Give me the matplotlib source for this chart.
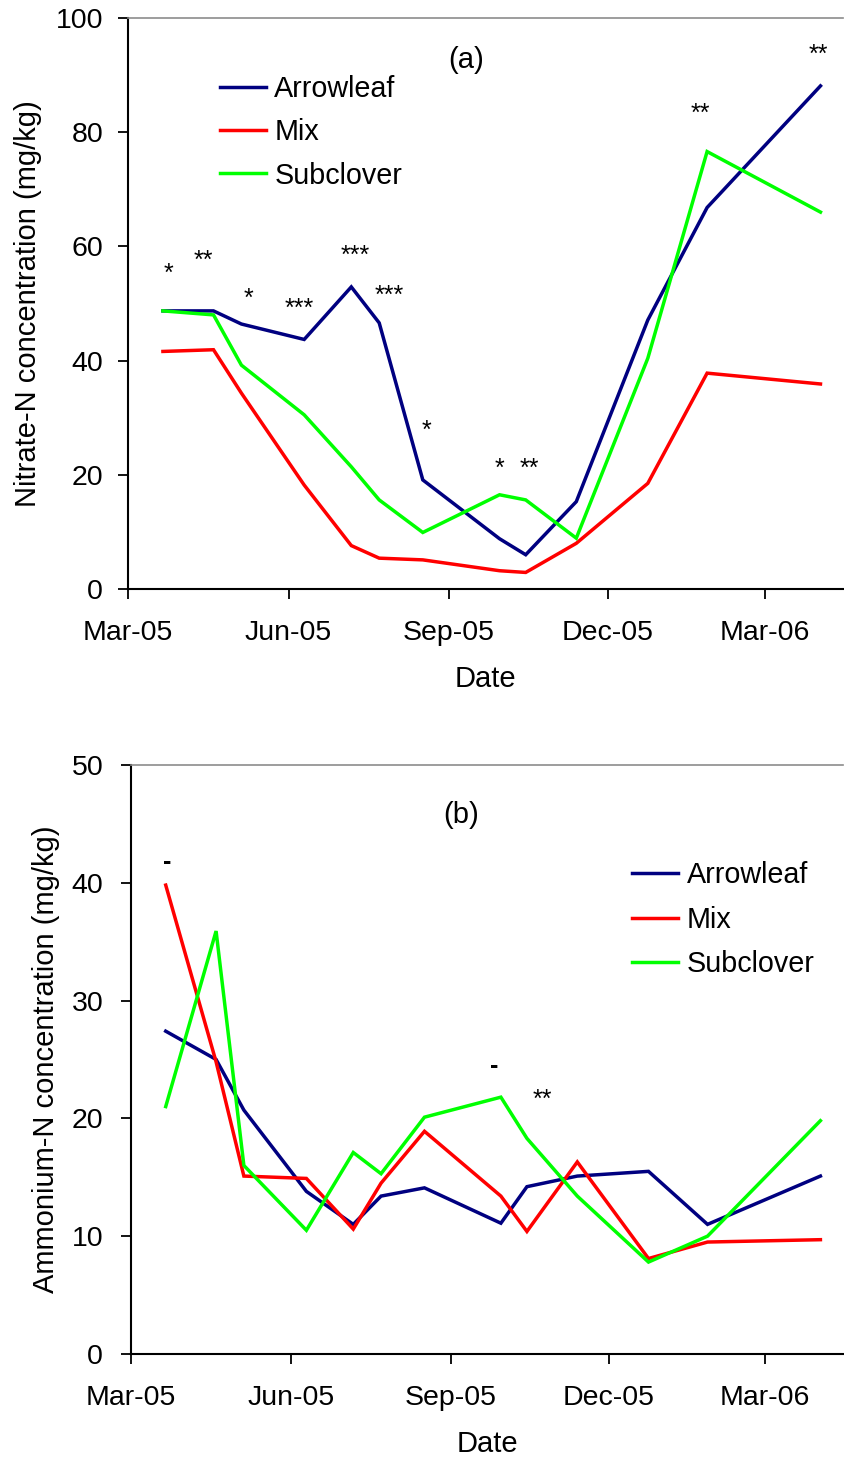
import matplotlib
matplotlib.use('Agg')
import matplotlib.pyplot as plt
import pandas as pd

plt.rcParams['font.family'] = ['Liberation Sans', 'DejaVu Sans']

# ---------------- data ----------------
sample_dates = pd.to_datetime([
    '2005-03-21', '2005-04-19', '2005-05-05', '2005-06-10', '2005-07-07',
    '2005-07-23', '2005-08-17', '2005-09-30', '2005-10-15', '2005-11-13',
    '2005-12-24', '2006-01-27', '2006-04-02'])

series_names = ['Arrowleaf', 'Mix', 'Subclover']
series_colors = ['#000080', '#FF0000', '#00FF00']

nitrate_arrowleaf = [48.7, 48.7, 46.4, 43.7, 52.9, 46.6, 19.1, 8.8, 6.0, 15.3, 47.1, 66.8, 88.1]
nitrate_mix = [41.6, 41.9, 34.3, 18.2, 7.6, 5.4, 5.1, 3.2, 2.9, 8.0, 18.5, 37.8, 35.9]
nitrate_subclover = [48.7, 48.0, 39.2, 30.5, 21.4, 15.6, 9.9, 16.5, 15.6, 8.9, 40.4, 76.6, 66.0]

ammonium_arrowleaf = [27.4, 25.0, 20.7, 13.8, 11.0, 13.4, 14.1, 11.1, 14.2, 15.1, 15.5, 11.0, 15.1]
ammonium_mix = [39.8, 24.8, 15.1, 14.9, 10.6, 14.5, 18.9, 13.4, 10.4, 16.3, 8.1, 9.5, 9.7]
ammonium_subclover = [21.0, 35.9, 16.0, 10.5, 17.1, 15.3, 20.1, 21.8, 18.3, 13.4, 7.8, 10.0, 19.8]

# significance marks (text, date, value at glyph centre)
sig_a_text = ['*', '**', '*', '***', '***', '***', '*', '*', '**', '**', '**']
sig_a_dates = pd.to_datetime([
    '2005-03-24', '2005-04-13', '2005-05-09', '2005-06-07', '2005-07-09',
    '2005-07-29', '2005-08-19', '2005-09-30', '2005-10-17', '2006-01-23',
    '2006-04-01'])
sig_a_values = [55.9, 58.1, 51.5, 49.7, 59.0, 52.0, 28.5, 21.7, 21.7, 84.0, 94.2]

sig_b_text = ['-', '-', '**']
sig_b_dates = pd.to_datetime(['2005-03-22', '2005-09-26', '2005-10-24'])
sig_b_values = [41.6, 24.3, 21.9]

tick_dates = pd.to_datetime(['2005-03-01', '2005-06-01', '2005-09-01',
                             '2005-12-01', '2006-03-01'])
tick_labels = ['Mar-05', 'Jun-05', 'Sep-05', 'Dec-05', 'Mar-06']
x_start = pd.Timestamp('2005-03-01')
x_end = pd.Timestamp('2006-04-15')

FS_TICK = 20.5
FS_LAB = 21
FS_LEG = 20.7

fig = plt.figure(figsize=(8.44, 14.59), dpi=100)
ax_a = fig.add_axes([0.1517, 0.5963, 0.8473, 0.3914])
ax_b = fig.add_axes([0.1552, 0.0720, 0.8436, 0.4037])


def style_axes(ax, ymax, ystep, ylabel, ylab_x, ypad):
    ax.set_xlim(x_start, x_end)
    ax.set_ylim(0, ymax)
    ax.set_yticks(list(range(0, ymax + 1, ystep)))
    ax.set_xticks(tick_dates)
    ax.set_xticklabels(tick_labels)
    ax.spines['right'].set_visible(False)
    ax.spines['top'].set_color('#8c8c8c')
    ax.spines['top'].set_linewidth(1.2)
    for s in ('left', 'bottom'):
        ax.spines[s].set_linewidth(1.5)
        ax.spines[s].set_color('black')
    ax.tick_params(axis='both', direction='out', length=7, width=1.3,
                   labelsize=FS_TICK)
    ax.tick_params(axis='x', pad=15)
    ax.tick_params(axis='y', pad=ypad)
    ax.set_xlabel('Date', fontsize=FS_LAB, labelpad=14)
    ax.set_ylabel(ylabel, fontsize=FS_LAB)
    ax.yaxis.set_label_coords(ylab_x, 0.5)


# ---------------- panel (a) ----------------
for vals, name, col in zip([nitrate_arrowleaf, nitrate_mix, nitrate_subclover],
                           series_names, series_colors):
    ax_a.plot(sample_dates, vals, color=col, lw=2.5, label=name,
              solid_joinstyle='miter')
style_axes(ax_a, 100, 20, 'Nitrate-N concentration (mg/kg)', -0.12, 11)
for t, d, v in zip(sig_a_text, sig_a_dates, sig_a_values):
    ax_a.annotate(t, xy=(d, v), xytext=(0, -8), textcoords='offset points',
                  ha='center', va='baseline', fontsize=18)
ax_a.text(0.473, 0.927, '(a)', transform=ax_a.transAxes, ha='center',
          va='center', fontsize=FS_LAB)
ax_a.legend(loc='upper left', bbox_to_anchor=(0.128, 0.9), frameon=False,
            fontsize=FS_LEG, handlelength=1.6, handletextpad=0.3,
            labelspacing=0.53, borderpad=0, borderaxespad=0)

# ---------------- panel (b) ----------------
for vals, name, col in zip([ammonium_arrowleaf, ammonium_mix, ammonium_subclover],
                           series_names, series_colors):
    ax_b.plot(sample_dates, vals, color=col, lw=2.5, label=name,
              solid_joinstyle='miter')
style_axes(ax_b, 50, 10, 'Ammonium-N concentration (mg/kg)', -0.1, 13)
for t, d, v in zip(sig_b_text, sig_b_dates, sig_b_values):
    if t == '-':
        ax_b.annotate(t, xy=(d, v), xytext=(0, -4), textcoords='offset points',
                      ha='center', va='baseline', fontsize=18, fontweight='bold')
    else:
        ax_b.annotate(t, xy=(d, v), xytext=(0, -8), textcoords='offset points',
                      ha='center', va='baseline', fontsize=18)
ax_b.text(0.464, 0.915, '(b)', transform=ax_b.transAxes, ha='center',
          va='center', fontsize=FS_LAB)
ax_b.legend(loc='upper left', bbox_to_anchor=(0.704, 0.837), frameon=False,
            fontsize=FS_LEG, handlelength=1.6, handletextpad=0.3,
            labelspacing=0.58, borderpad=0, borderaxespad=0)

fig.savefig('out.png', dpi=100)
